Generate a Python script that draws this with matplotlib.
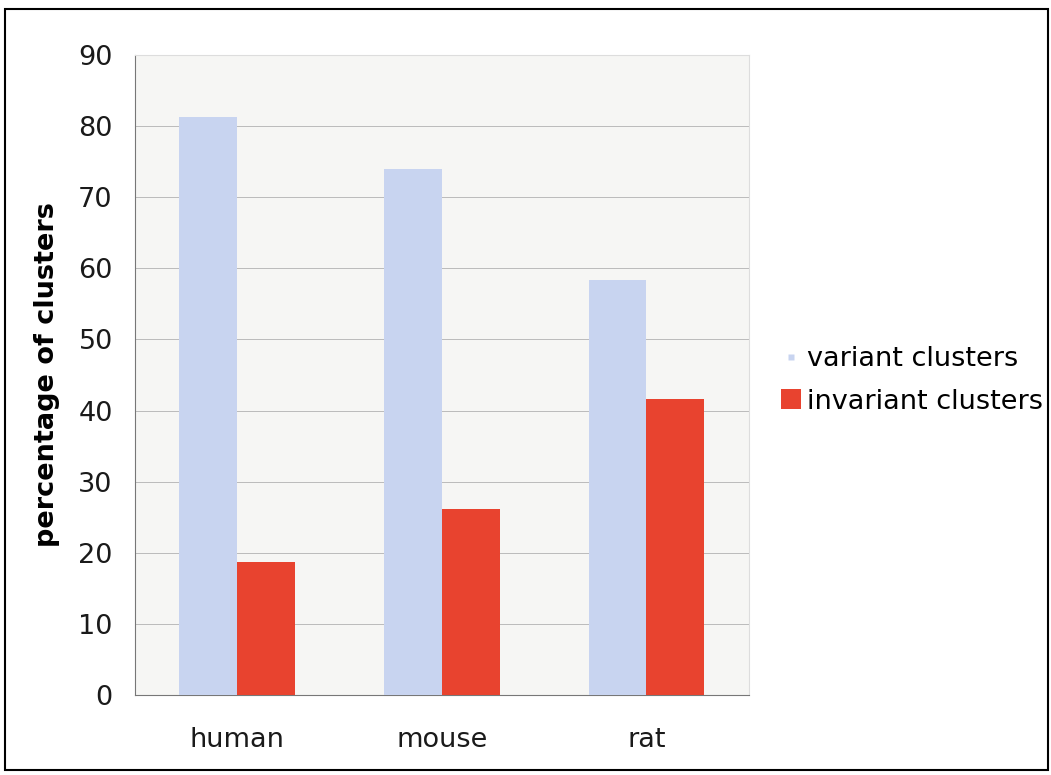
import matplotlib.pyplot as plt
import numpy as np
from matplotlib.patches import Rectangle, Patch
from matplotlib.lines import Line2D

species = ["human", "mouse", "rat"]
variant = [81.3, 73.9, 58.3]
invariant = [18.7, 26.1, 41.6]
yticks = [0, 10, 20, 30, 40, 50, 60, 70, 80, 90]

blue = "#c8d4f0"
red = "#e8432f"

fig = plt.figure(figsize=(10.51, 7.75), dpi=100)
ax = fig.add_axes([0.1284, 0.1032, 0.584, 0.826])

x = np.arange(len(species))
w = 0.283
ax.bar(x - w / 2, variant, w, color=blue, label="variant clusters", zorder=3)
ax.bar(x + w / 2, invariant, w, color=red, label="invariant clusters", zorder=3)

ax.set_xlim(-0.5, 2.5)
ax.set_ylim(0, 90)
ax.set_yticks(yticks)
ax.set_xticks(x)
ax.set_xticklabels(species)
ax.set_facecolor("#f6f6f4")
ax.yaxis.grid(True, color="#bbbbbb", linewidth=0.7, zorder=0)
for s in ["top", "right"]:
    ax.spines[s].set_color("#dddddd")
for s in ["left", "bottom"]:
    ax.spines[s].set_color("#777777")
ax.tick_params(axis="y", length=0, pad=16, labelsize=19.5, colors="#1a1a1a")
ax.tick_params(axis="x", length=0, pad=23, labelsize=19.5, colors="#1a1a1a")
ax.set_ylabel("percentage of clusters", fontsize=19.5, fontweight="bold", labelpad=13)

handles = [
    Line2D([], [], marker="s", markersize=4, linestyle="none",
           markerfacecolor=blue, markeredgecolor="none", label="variant clusters"),
    Patch(facecolor=red, edgecolor="none", label="invariant clusters"),
]
fig.legend(handles=handles, loc="center left", bbox_to_anchor=(0.72, 0.509),
           frameon=False, fontsize=19.5, handlelength=0.75, handleheight=0.75,
           handletextpad=0.2, labelspacing=0.6)

fig.patches.append(Rectangle((0.005, 0.006), 0.992, 0.983, transform=fig.transFigure,
                             fill=False, edgecolor="black", linewidth=1.5))

fig.savefig("out.png", dpi=100)
